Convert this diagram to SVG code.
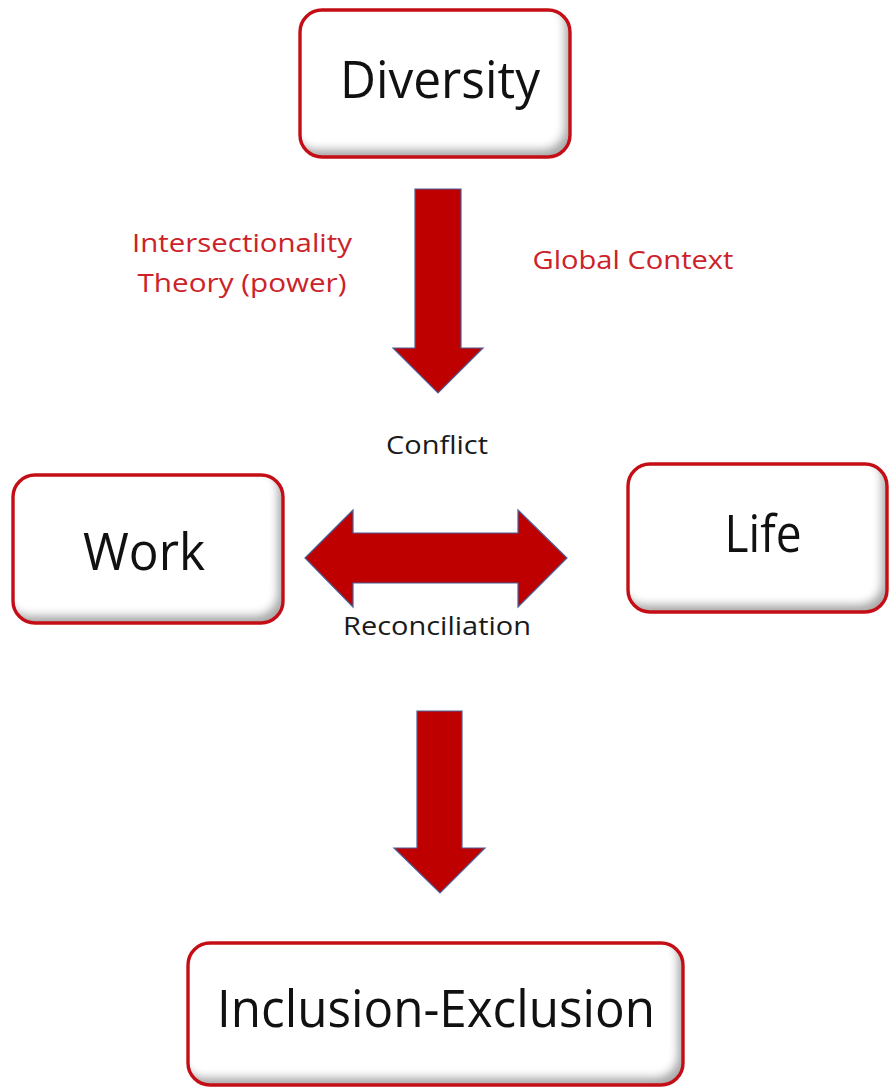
<svg xmlns="http://www.w3.org/2000/svg" width="889" height="1087" viewBox="0 0 889 1087">
  <defs>
    <!-- soft inner shading along the bottom and right edges of each box -->
    <filter id="bevel" x="-5%" y="-5%" width="110%" height="110%">
      <feOffset in="SourceAlpha" dx="-6" dy="-8"/>
      <feGaussianBlur stdDeviation="4" result="shifted"/>
      <feComposite in="SourceAlpha" in2="shifted" operator="out" result="rim"/>
      <feFlood flood-color="#000" flood-opacity="0.6"/>
      <feComposite in2="rim" operator="in" result="shade"/>
      <feMerge>
        <feMergeNode in="SourceGraphic"/>
        <feMergeNode in="shade"/>
      </feMerge>
    </filter>
    <filter id="soft" x="-5%" y="-5%" width="110%" height="110%">
      <feGaussianBlur stdDeviation="0.6"/>
    </filter>
  </defs>
  <style>
    .box-fill { fill: #ffffff; filter: url(#bevel); }
    .box-edge { fill: none; stroke: #c40d14; stroke-width: 3.4; filter: url(#soft); }
    .big { font-family: "Open Sans", "Noto Sans", "Liberation Sans", sans-serif; font-size: 51px; fill: #111; text-anchor: middle; }
    .note { font-family: "Open Sans", "Noto Sans", "Liberation Sans", sans-serif; font-size: 26px; fill: #cc2229; text-anchor: middle; }
    .tag { font-family: "Open Sans", "Noto Sans", "Liberation Sans", sans-serif; font-size: 26px; fill: #1a1a1a; text-anchor: middle; }
    .arrow { fill: #be0000; stroke: #4b5f97; stroke-width: 1.2; stroke-linejoin: miter; }
  </style>
  <rect width="889" height="1087" fill="#ffffff"/>

  <g id="connectors">
    <path class="arrow" d="M415,189 H461 V348 H483 L438,393 L393,348 H415 Z"/>
    <path class="arrow" d="M305,558 L353,510 V533 H518 V510 L567,558 L518,607 V583 H353 V607 Z"/>
    <path class="arrow" d="M417,711 H462 V848 H485 L440,893 L394,848 H417 Z"/>
    <text class="tag" x="437" y="454" textLength="102" lengthAdjust="spacingAndGlyphs">Conflict</text>
    <text class="tag" x="437" y="635" textLength="188" lengthAdjust="spacingAndGlyphs">Reconciliation</text>
  </g>

  <g id="labels">
    <text class="note" x="242" y="252" textLength="220" lengthAdjust="spacingAndGlyphs">Intersectionality</text>
    <text class="note" x="242" y="292" textLength="209" lengthAdjust="spacingAndGlyphs">Theory (power)</text>
    <text class="note" x="633" y="269" textLength="201" lengthAdjust="spacingAndGlyphs">Global Context</text>
  </g>

  <g id="node-diversity">
    <rect class="box-fill" x="300" y="10" width="270" height="147" rx="22"/>
    <rect class="box-edge" x="300" y="10" width="270" height="147" rx="22"/>
    <text class="big" x="440" y="98" textLength="200" lengthAdjust="spacingAndGlyphs">Diversity</text>
  </g>

  <g id="node-work">
    <rect class="box-fill" x="13" y="475" width="270" height="148" rx="22"/>
    <rect class="box-edge" x="13" y="475" width="270" height="148" rx="22"/>
    <text class="big" x="144" y="570" textLength="122" lengthAdjust="spacingAndGlyphs">Work</text>
  </g>

  <g id="node-life">
    <rect class="box-fill" x="628" y="464" width="259" height="148" rx="22"/>
    <rect class="box-edge" x="628" y="464" width="259" height="148" rx="22"/>
    <text class="big" x="763" y="552" textLength="77" lengthAdjust="spacingAndGlyphs">Life</text>
  </g>

  <g id="node-inclusion-exclusion">
    <rect class="box-fill" x="188" y="943" width="495" height="142" rx="22"/>
    <rect class="box-edge" x="188" y="943" width="495" height="142" rx="22"/>
    <text class="big" x="436" y="1027" textLength="438" lengthAdjust="spacingAndGlyphs">Inclusion-Exclusion</text>
  </g>
</svg>
